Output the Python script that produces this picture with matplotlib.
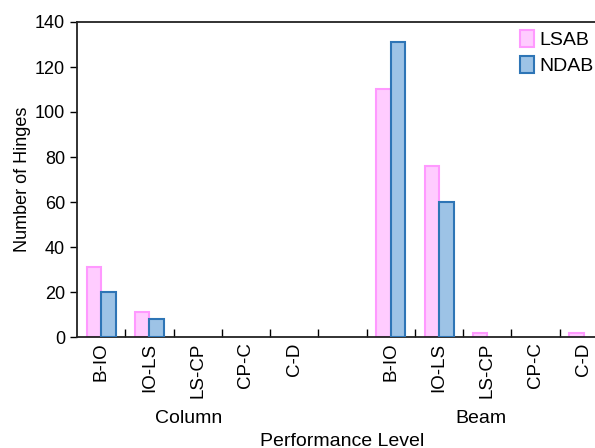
import matplotlib
matplotlib.use("Agg")
import matplotlib.pyplot as plt
from matplotlib.patches import Patch
import numpy as np

plt.rcParams['font.family'] = ['Liberation Sans', 'DejaVu Sans']

levels = ["B-IO", "IO-LS", "LS-CP", "CP-C", "C-D"]
groups = ["Column", "Beam"]
lsab_column = [31, 11, 0, 0, 0]
ndab_column = [20, 8, 0, 0, 0]
lsab_beam = [110, 76, 2, 0, 2]
ndab_beam = [131, 60, 0, 0, 0]
series_names = ["LSAB", "NDAB"]

lsab_face, lsab_edge = "#FFCCFF", "#FF99FF"
ndab_face, ndab_edge = "#9DC3E6", "#2E75B6"

# slots: 5 column levels, one empty spacer, 5 beam levels
col_pos = np.arange(5)
beam_pos = np.arange(6, 11)
positions = np.concatenate([col_pos, beam_pos])
lsab = np.array(lsab_column + lsab_beam)
ndab = np.array(ndab_column + ndab_beam)

fig = plt.figure(figsize=(5.95, 4.48), dpi=100)
W, H = 595, 448
left, right, top, bottom = 77, 608, 22, 337
ax = fig.add_axes([left / W, 1 - bottom / H, (right - left) / W, (bottom - top) / H])

bw = 0.3
# empty categories get no outline drawn on the baseline
lsab_lw = np.where(lsab > 0, 1.5, 0)
ndab_lw = np.where(ndab > 0, 1.5, 0)
ax.bar(positions - bw / 2, lsab, width=bw, color=lsab_face, edgecolor=lsab_edge,
       linewidth=lsab_lw, label=series_names[0], zorder=2)
ax.bar(positions + bw / 2, ndab, width=bw, color=ndab_face, edgecolor=ndab_edge,
       linewidth=ndab_lw, label=series_names[1], zorder=3)

ax.set_xlim(-0.5, 10.5)
ax.set_ylim(0, 140)
ax.set_yticks(np.arange(0, 141, 20))
ax.tick_params(axis='y', direction='out', length=5, labelsize=13, width=1)

# category labels and boundary ticks
ax.set_xticks(positions)
ax.set_xticklabels(levels + levels, rotation=90, fontsize=13.5)
ax.tick_params(axis='x', which='major', length=0, pad=4)
ax.set_xticks(np.arange(0.5, 10.5, 1), minor=True)
ax.tick_params(axis='x', which='minor', direction='in', length=6, width=1)

for s in ["left", "bottom", "top"]:
    ax.spines[s].set_linewidth(1.3)
    ax.spines[s].set_color("#222222")
ax.spines["right"].set_visible(False)

ax.set_ylabel("Number of Hinges", fontsize=13, labelpad=3)

# group labels under the tick labels
for name, pos in zip(groups, [1.82, 7.86]):
    ax.text(pos, -0.258, name, transform=ax.get_xaxis_transform(),
            ha='center', va='center', fontsize=14)
fig.text(342 / W, 1 - 441 / H, "Performance Level",
         ha='center', va='center', fontsize=14)

handles = [Patch(facecolor=lsab_face, edgecolor=lsab_edge, linewidth=1.5),
           Patch(facecolor=ndab_face, edgecolor=ndab_edge, linewidth=1.5)]
leg = ax.legend(handles, series_names, loc='upper left',
                bbox_to_anchor=((520 - left) / (right - left), 0.975),
                frameon=False, fontsize=14, handlelength=0.7, handleheight=0.95,
                handletextpad=0.3, borderaxespad=0, borderpad=0,
                labelspacing=0.35)

fig.savefig("out.png", dpi=100)
